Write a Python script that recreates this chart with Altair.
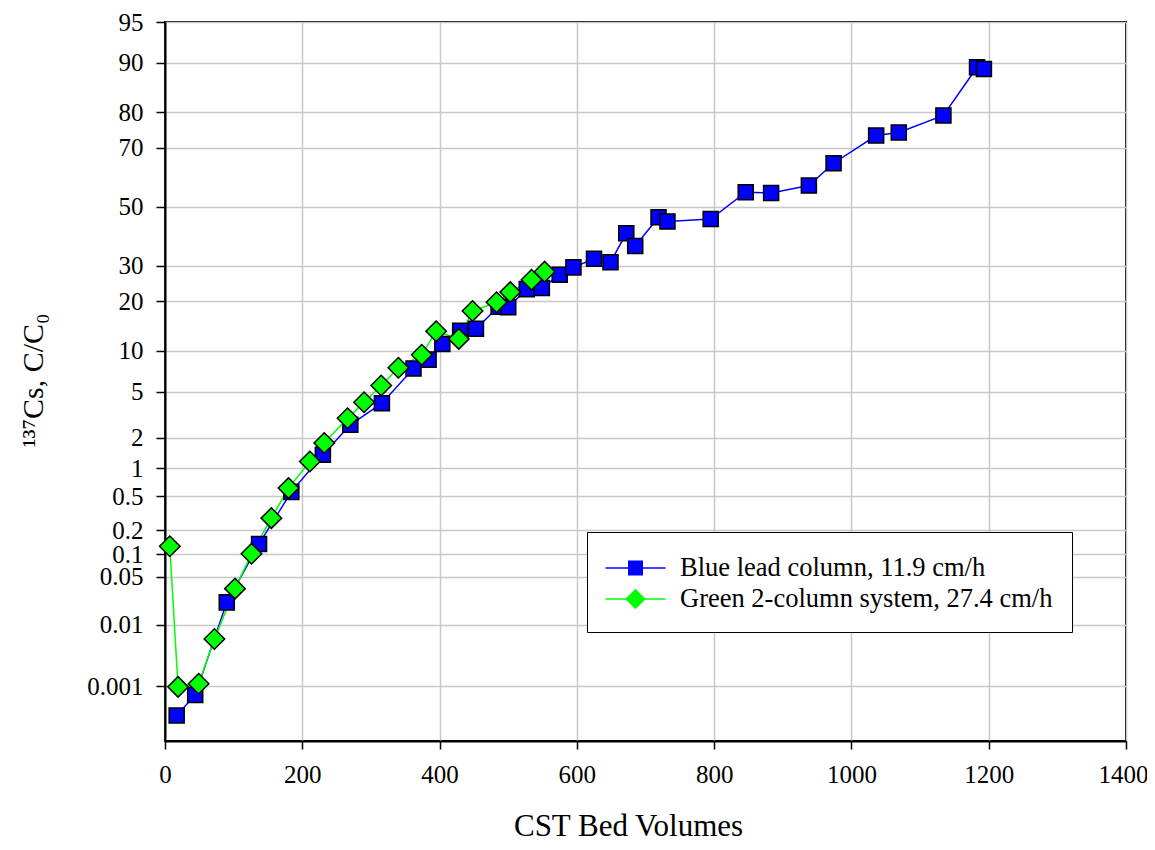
import altair as alt
import pandas as pd
from statistics import NormalDist

# ---- data (bed volumes, C/C0 in %) ----
blue_name = "Blue lead column, 11.9 cm/h"
green_name = "Green 2-column system, 27.4 cm/h"

blue_bv = [17, 44, 90, 137, 184, 230, 270, 316, 362, 384, 404, 430, 453, 486, 500,
           527, 549, 575, 595, 625, 649, 672, 685, 719, 732, 795, 846, 883, 938, 974,
           1036, 1069, 1134, 1183, 1193]
blue_pct = [0.0003, 0.0007, 0.0216, 0.135, 0.56, 1.37, 2.62, 4.03, 7.5, 8.7, 11.1, 13.5, 13.9, 18.7, 18.6,
            23.2, 23.5, 27.3, 29.5, 32.2, 31.1, 40.7, 36.4, 46.3, 44.8, 45.7, 55.2, 54.9, 57.5, 65.1,
            73.7, 74.6, 79.2, 89.3, 89.0]

green_bv = [7, 19, 49, 72, 102, 126, 155, 180, 211, 232, 266, 290, 315, 340, 374, 395,
            428, 448, 483, 503, 534, 553]
green_pct = [0.126, 0.00097, 0.0011, 0.006, 0.034, 0.101, 0.28, 0.616, 1.17, 1.78, 3.0, 4.1, 5.6, 7.6, 9.4, 13.4,
             12.0, 17.7, 19.8, 22.4, 25.8, 28.2]

y_tick_pct = [0.001, 0.01, 0.05, 0.1, 0.2, 0.5, 1, 2, 5, 10, 20, 30, 50, 70, 80, 90, 95]
x_ticks = [0, 200, 400, 600, 800, 1000, 1200, 1400]
series_names = [blue_name, green_name]
series_colors = ["#0000FF", "#00FF00"]

nd = NormalDist()
y_tick_z = [nd.inv_cdf(p / 100.0) for p in y_tick_pct]
y_min_z = nd.inv_cdf(1e-6)
y_max_z = nd.inv_cdf(0.95)

df = pd.concat([
    pd.DataFrame({"bv": blue_bv, "pct": blue_pct, "series": blue_name}),
    pd.DataFrame({"bv": green_bv, "pct": green_pct, "series": green_name}),
], ignore_index=True)
df["series2"] = df["series"]

FONT = "Liberation Serif"

x_enc = alt.X("bv:Q",
              scale=alt.Scale(domain=[0, 1400], nice=False, zero=False),
              axis=alt.Axis(values=x_ticks, format="d", title="CST Bed Volumes",
                            titleX=463, titleY=94, titleBaseline="alphabetic",
                            titleFontSize=31, titleFont=FONT, titleFontWeight="normal",
                            titleColor="black",
                            labelFont=FONT, labelFontSize=25, labelColor="black",
                            labelPadding=13, labelFlush=False, labelOverlap=False,
                            labelBound=False,
                            labelOffset={"condition": {"test": "datum.value === 1400", "value": -3},
                                         "value": 0},
                            tickSize=8, tickWidth=1.5, tickColor="black",
                            domainColor="black", domainWidth=2,
                            grid=True, gridColor="#C8C8C8", gridWidth=1.5))

y_enc = alt.Y("z:Q",
              scale=alt.Scale(domain=[y_min_z, y_max_z], nice=False, zero=False),
              axis=alt.Axis(values=y_tick_z,
                            labelExpr="format(cumulativeNormal(datum.value) * 100, '.3~r')",
                            title="¹³⁷Cs, C/C₀",
                            titleX=-123, titleY=358, titleAngle=270,
                            titleBaseline="alphabetic", titleAlign="center",
                            titleFontSize=30, titleFont=FONT, titleFontWeight="normal",
                            titleColor="black",
                            labelFont=FONT, labelFontSize=25, labelColor="black",
                            labelPadding=13, labelOverlap=False, labelFlush=False,
                            labelBound=False,
                            tickSize=9, tickWidth=1.5, tickColor="black",
                            domainColor="black", domainWidth=2,
                            grid=True, gridColor="#C8C8C8", gridWidth=1.5))

SYM = 1024  # symbol size (custom paths are scaled by sqrt(SYM)/2 = 16 px per unit)
legend_common = dict(title=None, orient="none", legendX=422, legendY=510,
                     symbolSize=SYM, symbolStrokeWidth=1.5, symbolOffset=12.5,
                     labelFont=FONT, labelFontSize=26.5, labelColor="black",
                     labelExpr="datum.label + '  '",
                     labelOffset=27.5, labelLimit=0, padding=19, rowPadding=0)

line_legend = alt.Legend(symbolType="M-1.875,0H1.875", strokeColor="black", fillColor="white",
                         zindex=1, **legend_common)
marker_legend = alt.Legend(labelOpacity=0, symbolStrokeColor="black", zindex=2,
                           **legend_common)

square_path = "M-0.47,-0.47H0.47V0.47H-0.47Z"
diamond_path = "M-0.64,0L0,-0.64L0.64,0L0,0.64Z"

base = alt.Chart(df).transform_calculate(z="quantileNormal(datum.pct / 100)")

lines = base.mark_line(strokeWidth=1.5).encode(
    x=x_enc, y=y_enc,
    stroke=alt.Stroke("series:N",
                      scale=alt.Scale(domain=series_names, range=series_colors),
                      legend=line_legend),
    detail="series:N",
)

points = base.mark_point(size=SYM, stroke="black", strokeWidth=1.5, opacity=1).encode(
    x=x_enc, y=y_enc,
    fill=alt.Fill("series2:N", scale=alt.Scale(range=series_colors), legend=marker_legend),
    shape=alt.Shape("series2:N", scale=alt.Scale(range=[square_path, diamond_path]),
                    legend=marker_legend),
)

chart = alt.layer(lines, points).properties(
    width=961, height=719,
    autosize=alt.AutoSizeParams(type="none"),
    padding={"left": 157, "top": 14, "right": 21, "bottom": 101},
    background="white",
).configure_view(stroke="black", strokeWidth=2)

chart.save("out.html", embed_options={"renderer": "svg", "actions": False})
